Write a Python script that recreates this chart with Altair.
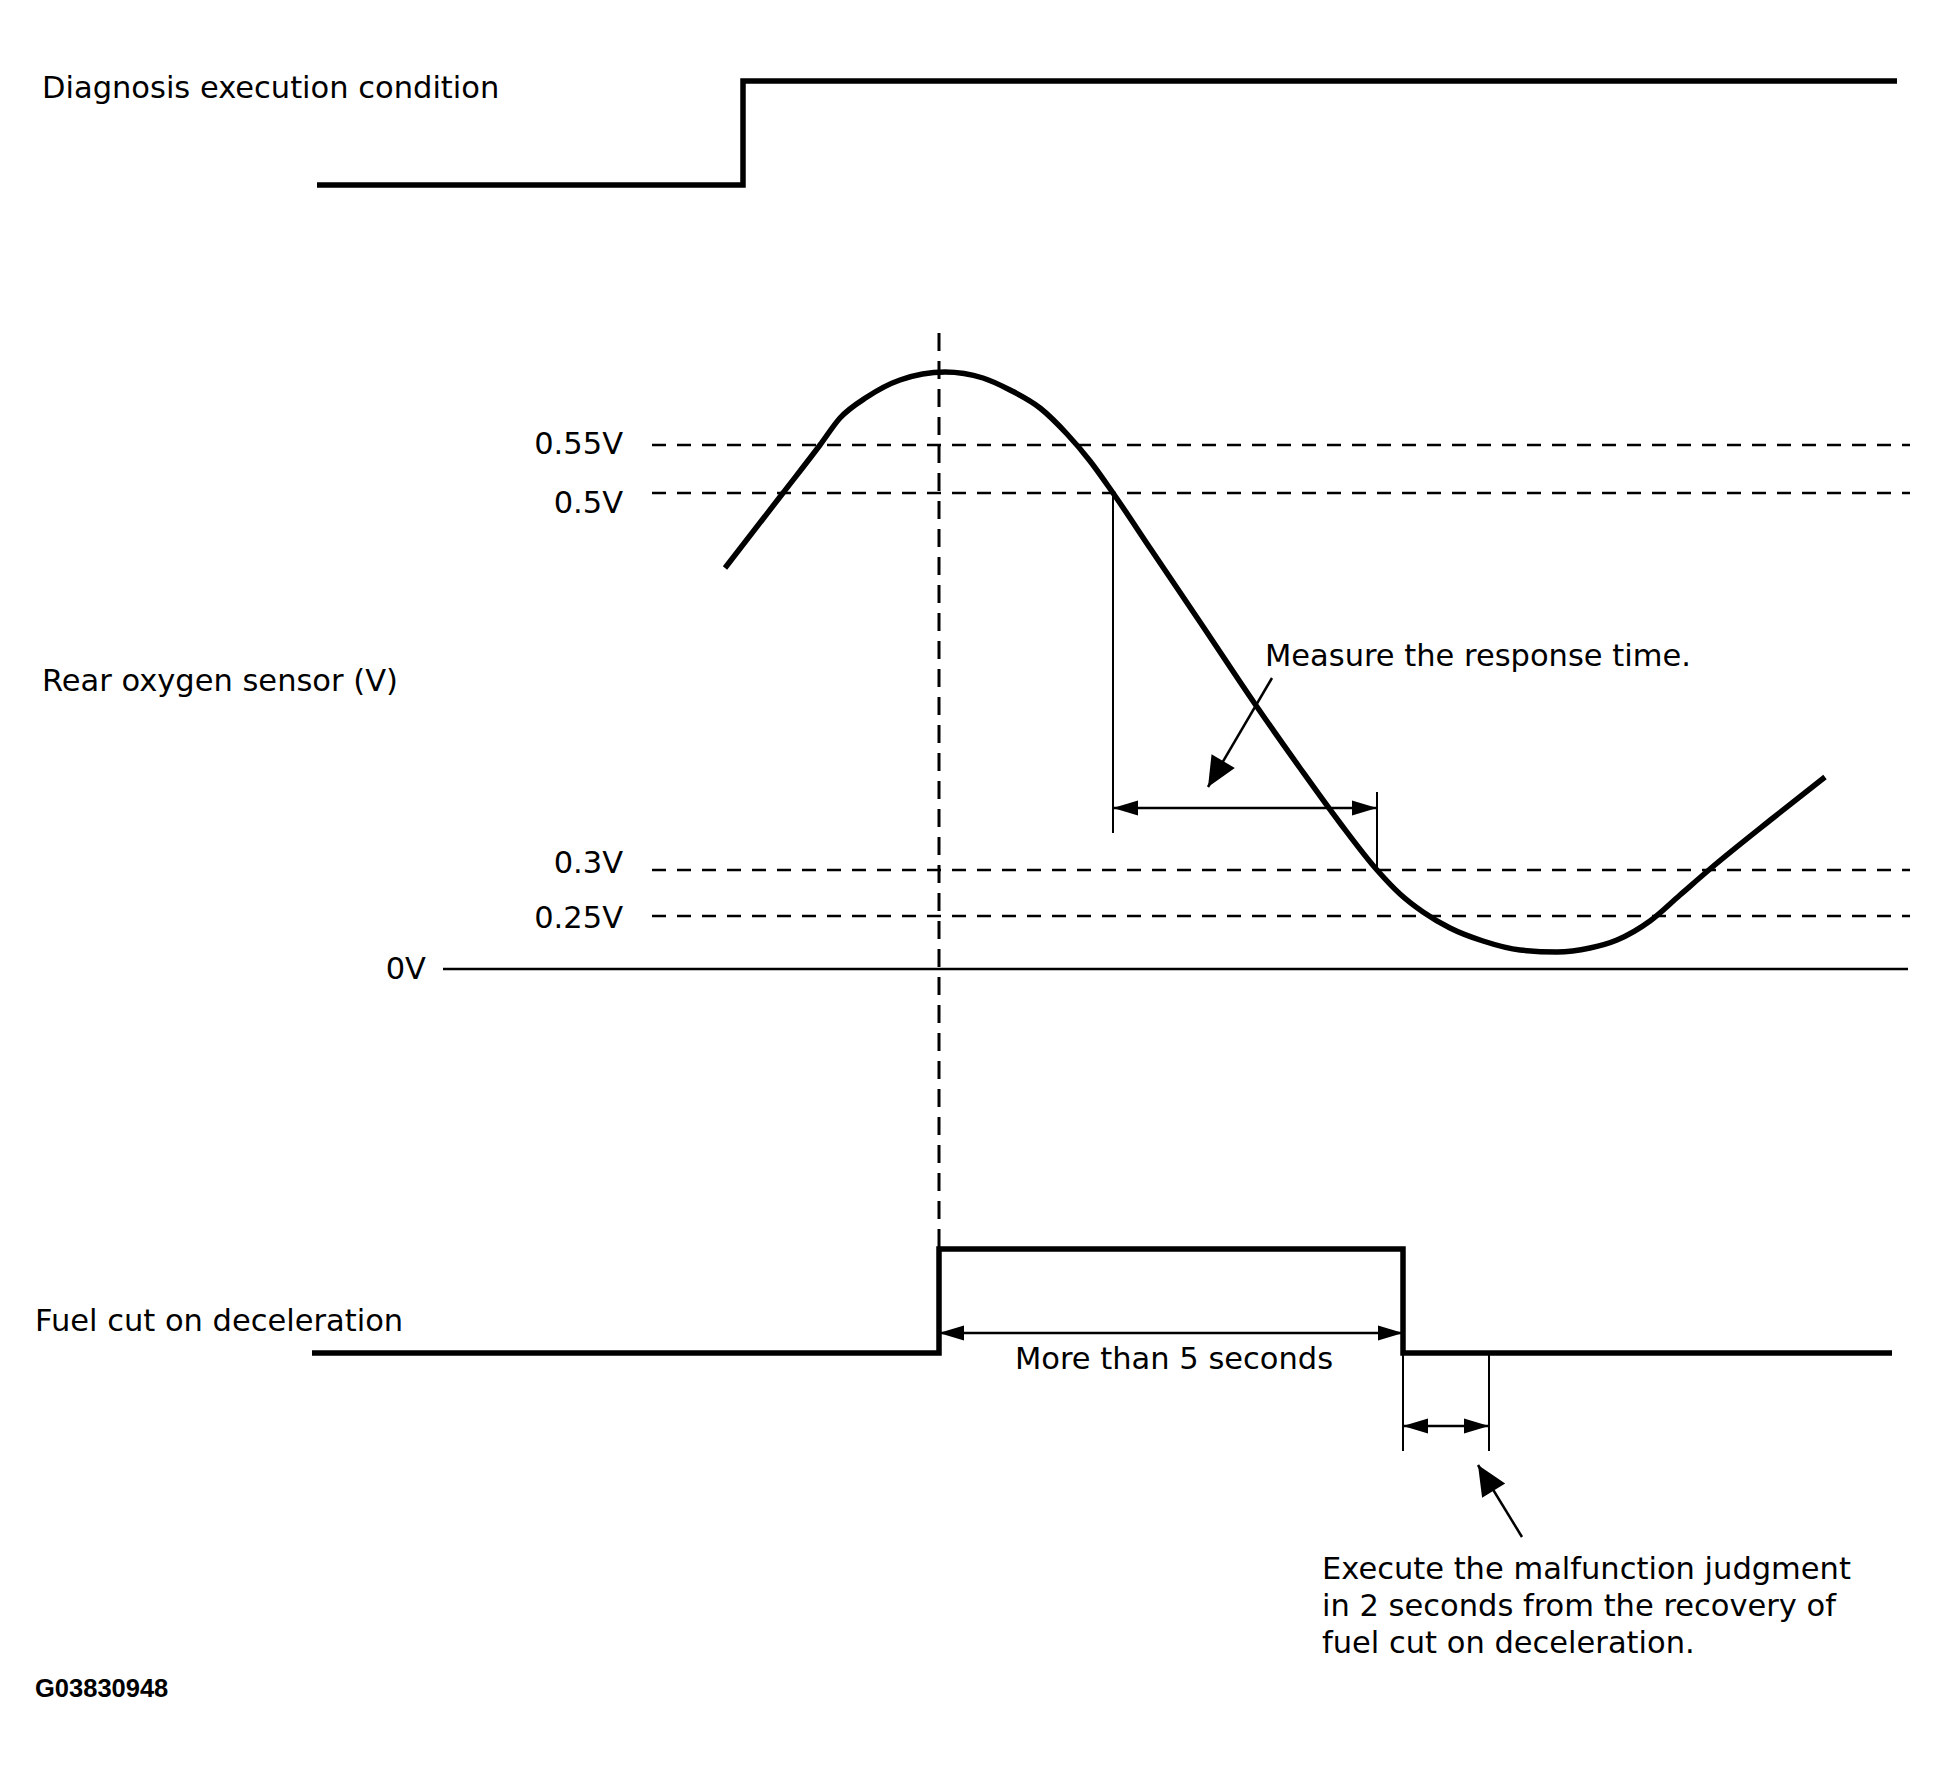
import math
import altair as alt
import pandas as pd

# ---------------- data (diagram units: t = time position, lv = signal level position, lv grows downward) ----
# Diagnosis execution condition (step signal)
diag_t = [317, 743, 743, 1897]
diag_lv = [185, 185, 81, 81]

# Fuel cut on deceleration (pulse)
fuel_t = [312, 939, 939, 1403, 1403, 1892]
fuel_lv = [1353, 1353, 1249, 1249, 1353, 1353]

# Rear oxygen sensor waveform
sensor_t = [725, 783, 820, 840, 867, 900, 945, 983, 1010, 1040, 1067, 1090, 1113, 1150, 1200,
            1255, 1300, 1340, 1377, 1400, 1423, 1450, 1483, 1520, 1557, 1590, 1617, 1650,
            1680, 1710, 1773, 1825]
sensor_lv = [568, 493, 445, 418, 397, 380, 372, 378, 390, 408, 434, 461, 493, 548, 622,
             704, 768, 823, 870, 894, 912, 928, 941, 950, 952, 948, 940, 921,
             895, 869, 818, 777]

# Threshold levels
thr_names = ["0.55V", "0.5V", "0.3V", "0.25V"]
thr_lv = [445, 493, 870, 916]
thr_label_lv = [454, 513, 873, 928]
thr_start, thr_end = 652, 1910
zero_lv = 969
zero_start, zero_end = 443, 1908

# Event marker (start of fuel cut) – vertical dashed line
event_t = 939
event_lv = [333, 1249]

# Thin reference verticals
ref_t = [1113, 1377, 1403, 1489]
ref_lv1 = [493, 792, 1355, 1355]
ref_lv2 = [833, 870, 1451, 1451]

# Double-headed spans
span_t1 = [1113, 939, 1403]
span_t2 = [1377, 1403, 1489]
span_lv = [808, 1333, 1426]

# Pointer arrows (tail -> tip)
ptr_t1 = [1272, 1522]
ptr_lv1 = [678, 1537]
ptr_t2 = [1208, 1478]
ptr_lv2 = [787, 1465]

# Texts
left_texts = ["Diagnosis execution condition", "Rear oxygen sensor (V)", "Fuel cut on deceleration",
              "Measure the response time.", "Execute the malfunction judgment",
              "in 2 seconds from the recovery of", "fuel cut on deceleration."]
left_t = [42, 42, 35, 1265, 1322, 1322, 1322]
left_lv = [98, 691, 1331, 666, 1579, 1616, 1653]

volt_texts = thr_names + ["0V"]
volt_t = [623, 623, 623, 623, 426]
volt_lv = thr_label_lv + [979]

center_texts = ["More than 5 seconds"]
center_t = [1174]
center_lv = [1369]

code_text = ["G03830948"]
code_t = [35]
code_lv = [1697]

# ---------------- chart ----------------
X = alt.Scale(domain=[8, 1940], nice=False, zero=False)
Y = alt.Scale(domain=[8, 1764], nice=False, zero=False, reverse=True)


def xe(f):
    return alt.X(f"{f}:Q", scale=X, axis=None)


def ye(f):
    return alt.Y(f"{f}:Q", scale=Y, axis=None)


def polyline(ts, lvs, width, **kw):
    df = pd.DataFrame({"t": ts, "lv": lvs, "i": list(range(len(ts)))})
    return alt.Chart(df).mark_line(color="black", strokeWidth=width, **kw).encode(
        x=xe("t"), y=ye("lv"), order=alt.Order("i:Q"))


def segments(t1, lv1, t2, lv2, width, **kw):
    df = pd.DataFrame({"t": t1, "lv": lv1, "t2": t2, "lv2": lv2})
    return alt.Chart(df).mark_rule(color="black", strokeWidth=width, **kw).encode(
        x=xe("t"), y=ye("lv"), x2=alt.X2("t2:Q"), y2=alt.Y2("lv2:Q"))


def texts(txt, ts, lvs, align, font="DejaVu Sans", size=30.5, weight="normal"):
    df = pd.DataFrame({"txt": txt, "t": ts, "lv": lvs})
    return alt.Chart(df).mark_text(align=align, baseline="alphabetic", font=font, fontSize=size,
                                   fontWeight=weight, color="black").encode(
        x=xe("t"), y=ye("lv"), text="txt:N")


layers = []

# dashed threshold lines
n = len(thr_lv)
layers.append(segments([thr_start] * n, thr_lv, [thr_end] * n, thr_lv, 2.5, strokeDash=[14, 11]))
# 0V line
layers.append(segments([zero_start], [zero_lv], [zero_end], [zero_lv], 2.5))
# vertical dashed event line
layers.append(segments([event_t], [event_lv[0]], [event_t], [event_lv[1]], 3, strokeDash=[18, 10]))
# thin reference verticals
layers.append(segments(ref_t, ref_lv1, ref_t, ref_lv2, 2))
# span shafts
layers.append(segments(span_t1, span_lv, span_t2, span_lv, 2.5))
# pointer shafts
layers.append(segments(ptr_t1, ptr_lv1, ptr_t2, ptr_lv2, 2.5))

# signals
layers.append(polyline(diag_t, diag_lv, 5.5, strokeJoin="miter", strokeCap="butt"))
layers.append(polyline(fuel_t, fuel_lv, 5.5, strokeJoin="miter", strokeCap="butt"))
layers.append(polyline(sensor_t, sensor_lv, 5.5, interpolate="monotone", strokeCap="butt"))

# arrow heads
small_heads = []
for a, b, l in zip(span_t1, span_t2, span_lv):
    small_heads.append({"t": a, "lv": l, "ang": 180.0})
    small_heads.append({"t": b, "lv": l, "ang": 0.0})
big_heads = []
for a1, l1, a2, l2 in zip(ptr_t1, ptr_lv1, ptr_t2, ptr_lv2):
    ang = math.degrees(math.atan2(l2 - l1, a2 - a1)) % 360
    big_heads.append({"t": a2, "lv": l2, "ang": ang})

layers.append(alt.Chart(pd.DataFrame(small_heads)).mark_point(
    shape="M0,0L-1,-0.3L-1,0.3Z", filled=True, size=2500, color="black", opacity=1, strokeWidth=0
).encode(x=xe("t"), y=ye("lv"), angle=alt.Angle("ang:Q", scale=None)))
layers.append(alt.Chart(pd.DataFrame(big_heads)).mark_point(
    shape="M0,0L-1,-0.45L-1,0.45Z", filled=True, size=3600, color="black", opacity=1, strokeWidth=0
).encode(x=xe("t"), y=ye("lv"), angle=alt.Angle("ang:Q", scale=None)))

# texts
layers.append(texts(left_texts, left_t, left_lv, "left"))
layers.append(texts(volt_texts, volt_t, volt_lv, "right"))
layers.append(texts(center_texts, center_t, center_lv, "center"))
layers.append(texts(code_text, code_t, code_lv, "left", font="Liberation Sans", size=25.5, weight="bold"))

chart = alt.layer(*layers).properties(
    width=1932, height=1756, padding=0, autosize=alt.AutoSizeParams(type="none"),
    background="white"
).configure_view(stroke=None)

chart.save("out.html", embed_options={"renderer": "svg", "actions": False})
